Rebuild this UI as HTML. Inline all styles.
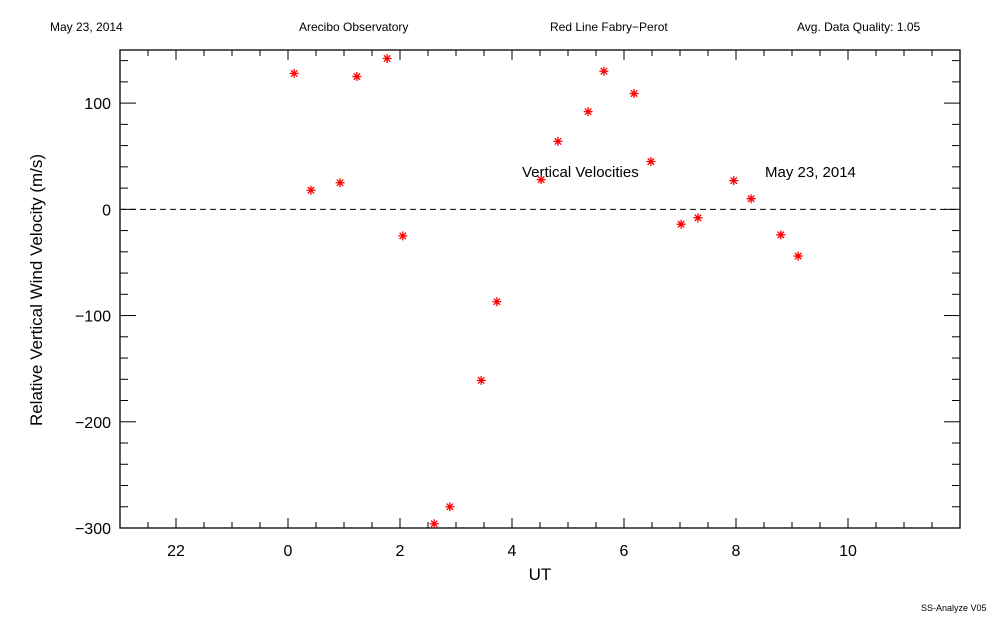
<!DOCTYPE html>
<html><head><meta charset="utf-8"><style>
body{margin:0;background:#fff;width:1000px;height:625px;overflow:hidden;font-family:"Liberation Sans",sans-serif}
svg text{font-family:"Liberation Sans",sans-serif;fill:#000}
</style></head><body>
<svg id="chart" width="1000" height="625" xmlns="http://www.w3.org/2000/svg">
<text x="50" y="31" font-size="12">May 23, 2014</text>
<text x="299" y="31" font-size="12">Arecibo Observatory</text>
<text x="550" y="31" font-size="12">Red Line Fabry−Perot</text>
<text x="797" y="31" font-size="12">Avg. Data Quality: 1.05</text>
<text x="921" y="611" font-size="9">SS-Analyze V05</text>
<g id="plot"></g>
</svg>
<script>
const hours=[0.11,0.41,0.93,1.23,1.77,2.05,2.61,2.89,3.45,3.73,4.52,4.82,5.36,5.64,6.18,6.48,7.02,7.32,7.96,8.27,8.80,9.11];
const velocities=[128,18,25,125,142,-25,-296,-280,-161,-87,28,64,92,130,109,45,-14,-8,27,10,-24,-44];
const xTickValues=[-2,0,2,4,6,8,10];
const xTickLabels=["22","0","2","4","6","8","10"];
const yTickValues=[-300,-200,-100,0,100];
const yTickLabels=["−300","−200","−100","0","100"];
const X0=120,X1=960,Y0=50,Y1=528,XMIN=-3,XMAX=12,YMIN=-300,YMAX=150;
const sx=v=>X0+(v-XMIN)/(XMAX-XMIN)*(X1-X0);
const sy=v=>Y1-(v-YMIN)/(YMAX-YMIN)*(Y1-Y0);
const g=document.getElementById('plot');const NS="http://www.w3.org/2000/svg";
function mk(t,a){const e=document.createElementNS(NS,t);for(const k in a)e.setAttribute(k,a[k]);g.appendChild(e);return e;}
let e=mk('rect',{x:X0,y:Y0,width:X1-X0,height:Y1-Y0,fill:'none',stroke:'#000','stroke-width':1.3});


for(let h=XMIN+0.5;h<XMAX;h+=0.5){const big=Math.abs(h%2)<1e-6;const len=big?10:6;
 e=mk('line',{x1:sx(h),x2:sx(h),y1:Y1,y2:Y1-len,stroke:'#000'});
 
 
 e=mk('line',{x1:sx(h),x2:sx(h),y1:Y0,y2:Y0+len,stroke:'#000'});
 
 }
for(let v=-280;v<150;v+=20){const big=v%100===0;const len=big?16:8;
 e=mk('line',{x1:X0,x2:X0+len,y1:sy(v),y2:sy(v),stroke:'#000'});
 
 
 e=mk('line',{x1:X1,x2:X1-len,y1:sy(v),y2:sy(v),stroke:'#000'});
 
 }
xTickValues.forEach((v,i)=>{e=mk('text',{x:sx(v),y:556,'font-size':16,'text-anchor':'middle'});e.textContent=xTickLabels[i];
 
 });
yTickValues.forEach((v,i)=>{e=mk('text',{x:111,y:sy(v)+6,'font-size':16,'text-anchor':'end'});e.textContent=yTickLabels[i];
 
 });
e=mk('text',{x:540,y:580,'font-size':17,'text-anchor':'middle'});e.textContent='UT';


e=mk('text',{x:0,y:0,'font-size':17,'text-anchor':'middle',transform:'translate(42,290) rotate(-90)'});e.textContent='Relative Vertical Wind Velocity (m/s)';


e=mk('line',{x1:X0,x2:X1,y1:sy(0),y2:sy(0),stroke:'#000','stroke-dasharray':'6,4'});


e=mk('text',{x:522,y:177,'font-size':15});e.textContent='Vertical Velocities';


e=mk('text',{x:765,y:177,'font-size':15});e.textContent='May 23, 2014';


hours.forEach((h,i)=>{const cx=sx(h),cy=sy(velocities[i]),r=4.5;
 const p=mk('path',{d:`M${cx-r} ${cy}H${cx+r}M${cx} ${cy-r}V${cy+r}M${cx-3.2} ${cy-3.2}L${cx+3.2} ${cy+3.2}M${cx-3.2} ${cy+3.2}L${cx+3.2} ${cy-3.2}`,stroke:'#ff0000','stroke-width':1.3});
 
 });
</script>
</body></html>
